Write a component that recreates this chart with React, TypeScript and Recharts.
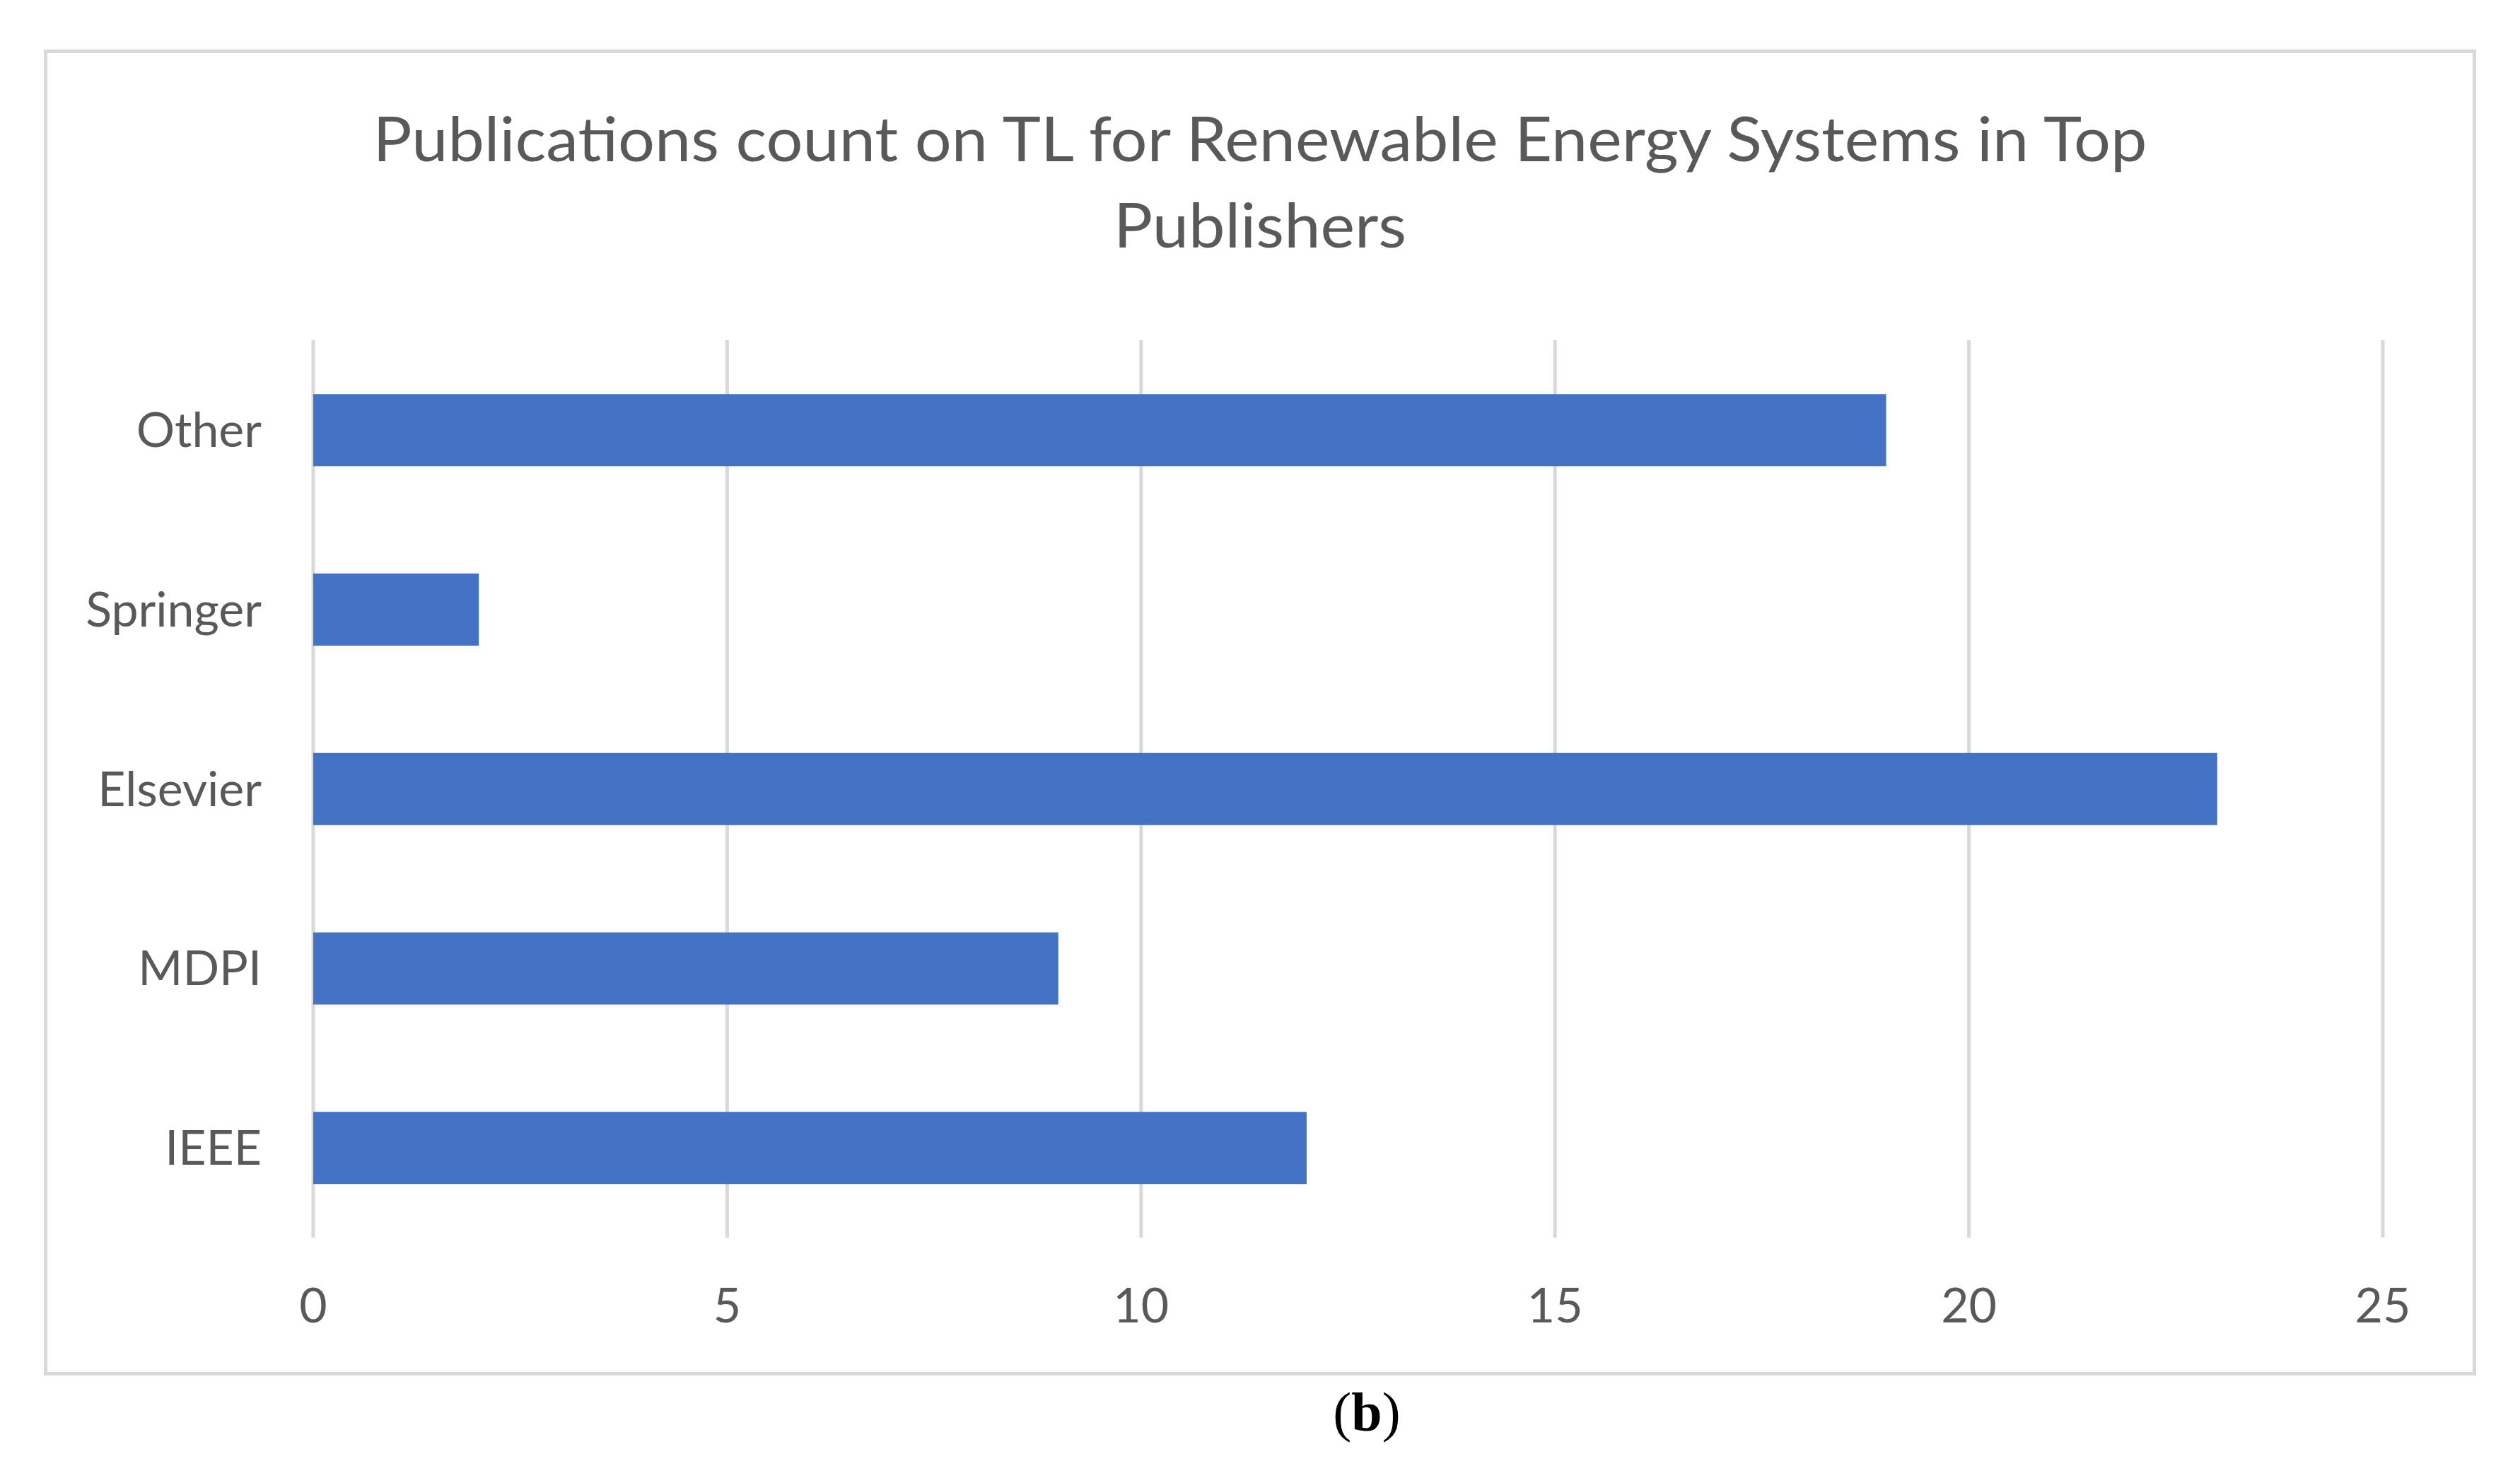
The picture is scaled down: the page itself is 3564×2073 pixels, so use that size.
import React from "react";
import { BarChart, Bar, XAxis, YAxis, CartesianGrid } from "recharts";

const categories = ["Other", "Springer", "Elsevier", "MDPI", "IEEE"];
const counts = [19, 2, 23, 9, 12];
const xTicks = [0, 5, 10, 15, 20, 25];
const titleLines = [
  "Publications count on TL for Renewable Energy Systems in Top",
  "Publishers",
];
const caption = "b";

const data = categories.map((name, i) => ({ name, value: counts[i] }));

const W = 3564;
const H = 2073;
const FONT = "Lato, 'Open Sans', sans-serif";
const TEXT = "#595959";
const GRID = "#D9D9D9";

export default function App() {
  return (
    <div style={{ position: "absolute", left: 0, top: 0, width: W, height: H, background: "#fff" }}>
      <div
        style={{
          position: "absolute",
          left: 62,
          top: 70,
          width: 3440,
          height: 1875,
          border: `5px solid ${GRID}`,
          boxSizing: "border-box",
        }}
      />
      <div style={{ position: "absolute", left: 0, top: 0 }}>
        <BarChart
          width={W}
          height={H}
          layout="vertical"
          data={data}
          margin={{ top: 481, right: 194, bottom: 223, left: 143 }}
          barCategoryGap="30%"
        >
          <CartesianGrid horizontal={false} vertical={true} stroke={GRID} strokeWidth={5} />
          <XAxis
            type="number"
            domain={[0, 25]}
            ticks={xTicks}
            axisLine={false}
            tickLine={false}
            tickSize={0}
            tickMargin={72}
            height={100}
            tick={{ fill: TEXT, fontSize: 68, fontFamily: FONT }}
            interval={0}
          />
          <YAxis
            type="category"
            dataKey="name"
            width={300}
            axisLine={false}
            tickLine={false}
            tickSize={0}
            tickMargin={73}
            tick={{ fill: TEXT, fontSize: 68, fontFamily: FONT }}
            interval={0}
          />
          <Bar dataKey="value" fill="#4472C4" isAnimationActive={false} />
        </BarChart>
      </div>
      <svg
        width={W}
        height={H}
        style={{ position: "absolute", left: 0, top: 0, pointerEvents: "none" }}
      >
        <text
          x={1782}
          y={228}
          textAnchor="middle"
          fill={TEXT}
          fontSize={88}
          fontFamily={FONT}
          textLength={2509}
          lengthAdjust="spacingAndGlyphs"
        >
          {titleLines[0]}
        </text>
        <text
          x={1782}
          y={350}
          textAnchor="middle"
          fill={TEXT}
          fontSize={88}
          fontFamily={FONT}
          textLength={414}
          lengthAdjust="spacingAndGlyphs"
        >
          {titleLines[1]}
        </text>
        <text
          x={1933}
          y={2023}
          textAnchor="middle"
          fill="#000"
          fontSize={78}
          fontFamily="'Liberation Serif', 'Times New Roman', serif"
        >
          (<tspan fontWeight="bold">{caption}</tspan>)
        </text>
      </svg>
    </div>
  );
}
